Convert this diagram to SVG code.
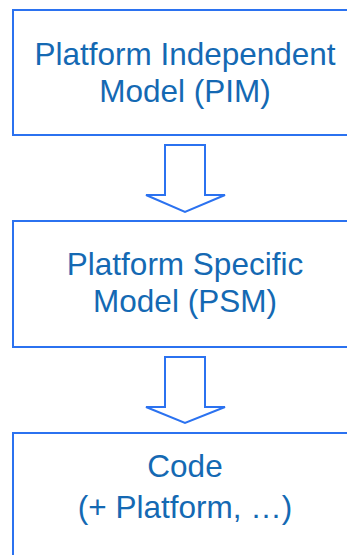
<svg xmlns="http://www.w3.org/2000/svg" width="347" height="555" viewBox="0 0 347 555">
<style>
.box{fill:#fff;stroke:#2B72F0;stroke-width:2}
.arr{fill:#fff;stroke:#2B72F0;stroke-width:2;stroke-linejoin:miter}
.t{font-family:"Liberation Sans",Arial,sans-serif;font-size:31.5px;fill:#1469B3;text-anchor:middle}
</style>
<rect width="347" height="555" fill="#fff"/>
<g id="pim">
<rect class="box" x="13" y="10" width="344" height="125"/>
<text class="t" x="185" y="65">Platform Independent</text>
<text class="t" x="185" y="102">Model (PIM)</text>
</g>
<g id="psm">
<rect class="box" x="13" y="221" width="344" height="126"/>
<text class="t" x="185" y="275">Platform Specific</text>
<text class="t" x="185" y="312">Model (PSM)</text>
</g>
<g id="code">
<rect class="box" x="13" y="433" width="344" height="140"/>
<text class="t" x="185" y="477">Code</text>
<text class="t" x="185" y="518">(+ Platform, …)</text>
</g>
<g id="connectors">
<polygon class="arr" points="165,145 205,145 205,195 225,195 185,212 146,195 165,195"/>
<polygon class="arr" points="165,357 205,357 205,407 225,407 185,423 146,407 165,407"/>
</g>
</svg>
